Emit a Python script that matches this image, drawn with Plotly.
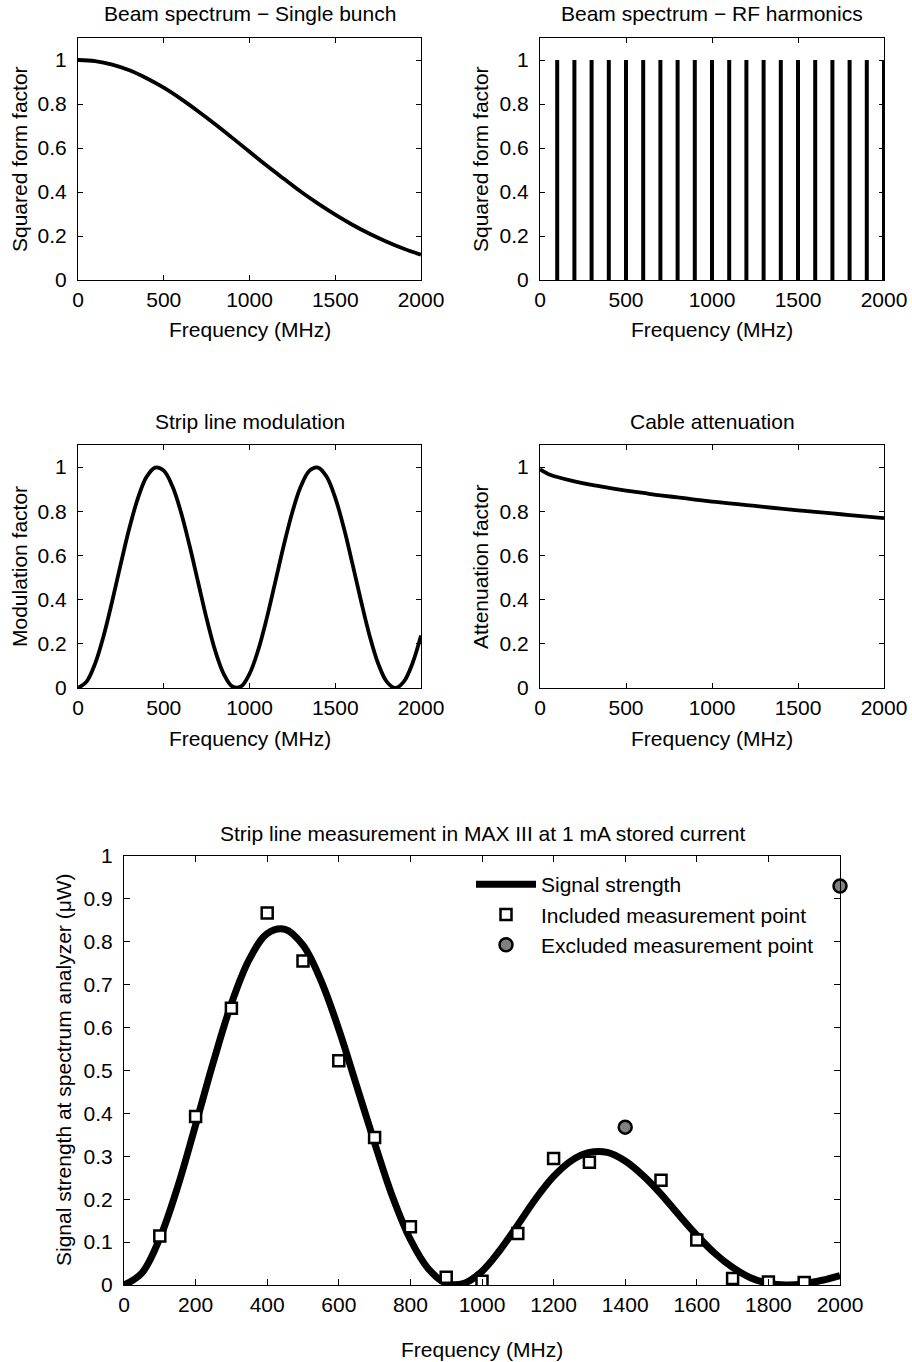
import plotly.graph_objects as go

W, H = 912, 1362

# ---------------- data ----------------
# Beam spectrum, single bunch (squared form factor), every 100 MHz
bunch_freq = list(range(0, 2001, 100))
bunch_ff = [1.000, 0.995, 0.979, 0.953, 0.917, 0.874, 0.823, 0.767, 0.708, 0.646,
            0.583, 0.520, 0.460, 0.401, 0.347, 0.297, 0.251, 0.210, 0.174, 0.142, 0.115]

# RF harmonics (every 100 MHz, unit height)
harm_freq = list(range(100, 2001, 100))
harm_amp = [1.0] * len(harm_freq)

# Strip line modulation factor, every 50 MHz
mod_freq = list(range(0, 2001, 50))
mod_fac = [0.000, 0.029, 0.111, 0.238, 0.395, 0.564, 0.725, 0.861, 0.956, 0.998,
           0.984, 0.914, 0.797, 0.646, 0.480, 0.314, 0.169, 0.063, 0.007, 0.007,
           0.064, 0.170, 0.314, 0.479, 0.646, 0.797, 0.914, 0.984, 0.998, 0.956,
           0.861, 0.725, 0.563, 0.395, 0.238, 0.111, 0.029, 0.000, 0.029, 0.111, 0.238]

# Cable attenuation factor
att_freq = [0, 25, 50, 100, 200, 300, 400, 500, 600, 700, 800, 900, 1000,
            1100, 1200, 1300, 1400, 1500, 1600, 1700, 1800, 1900, 2000]
att_fac = [0.990, 0.978, 0.968, 0.955, 0.935, 0.919, 0.906, 0.894, 0.883, 0.872,
           0.863, 0.853, 0.844, 0.836, 0.828, 0.820, 0.812, 0.804, 0.797, 0.790,
           0.783, 0.776, 0.769]

# Expected signal strength (uW), every 50 MHz
sig_freq = list(range(0, 2001, 50))
sig_uw = [0.000, 0.028, 0.109, 0.229, 0.373, 0.521, 0.656, 0.759, 0.819, 0.829,
          0.792, 0.710, 0.596, 0.464, 0.331, 0.206, 0.106, 0.038, 0.004, 0.004,
          0.032, 0.081, 0.140, 0.201, 0.253, 0.290, 0.309, 0.309, 0.289, 0.255,
          0.212, 0.163, 0.116, 0.074, 0.041, 0.017, 0.004, 0.000, 0.003, 0.011, 0.022]

# Measurements
incl_freq = [100, 200, 300, 400, 500, 600, 700, 800, 900, 1000,
             1100, 1200, 1300, 1500, 1600, 1700, 1800, 1900]
incl_uw = [0.114, 0.393, 0.645, 0.867, 0.755, 0.523, 0.344, 0.136, 0.018, 0.009,
           0.120, 0.295, 0.286, 0.244, 0.105, 0.015, 0.007, 0.006]
excl_freq = [1400, 2000]
excl_uw = [0.368, 0.930]

FONT = "Liberation Sans, Arial, Helvetica, sans-serif"
FS = 21


def px(x):
    return x / W


def py(y):
    return 1 - y / H


fig = go.Figure()

# stems for the RF harmonics
hx, hy = [], []
for f, a in zip(harm_freq, harm_amp):
    hx += [f, f, None]
    hy += [0, a, None]

fig.add_trace(go.Scatter(x=bunch_freq, y=bunch_ff, mode="lines", line=dict(color="black", width=3.8, shape="spline"),
                         xaxis="x", yaxis="y", showlegend=False))
fig.add_trace(go.Scatter(x=hx, y=hy, mode="lines", line=dict(color="black", width=4),
                         xaxis="x2", yaxis="y2", showlegend=False))
fig.add_trace(go.Scatter(x=mod_freq, y=mod_fac, mode="lines", line=dict(color="black", width=3.8, shape="spline"),
                         xaxis="x3", yaxis="y3", showlegend=False))
fig.add_trace(go.Scatter(x=att_freq, y=att_fac, mode="lines", line=dict(color="black", width=3.8, shape="spline"),
                         xaxis="x4", yaxis="y4", showlegend=False))

# bottom panel
fig.add_trace(go.Scatter(x=sig_freq, y=sig_uw, mode="lines", name="Signal strength",
                         line=dict(color="black", width=7, shape="spline"), xaxis="x5", yaxis="y5"))
fig.add_trace(go.Scatter(x=incl_freq, y=incl_uw, mode="markers", name="Included measurement point",
                         marker=dict(symbol="square", size=11, color="white", line=dict(color="black", width=2.5)),
                         xaxis="x5", yaxis="y5"))
fig.add_trace(go.Scatter(x=excl_freq, y=excl_uw, mode="markers", name="Excluded measurement point",
                         marker=dict(symbol="circle", size=13, color="#808080", line=dict(color="black", width=2.5)),
                         xaxis="x5", yaxis="y5", cliponaxis=False))


def ax(domain, rng, dtick, anchor, ticklen=5, standoff=1):
    return dict(domain=domain, range=rng, dtick=dtick, tick0=0, anchor=anchor,
                showline=True, linecolor="black", linewidth=1.2, mirror="ticks",
                ticks="inside", ticklen=ticklen, tickwidth=1, tickcolor="black",
                showgrid=False, zeroline=False, fixedrange=True, automargin=False,
                ticklabelstandoff=standoff,
                tickfont=dict(family=FONT, size=FS, color="black"))


xl = [px(78), px(421)]
xr = [px(540), px(884)]
yt = [py(280), py(38)]
ym = [py(688), py(445)]

layout_axes = dict(
    xaxis=ax(xl, [0, 2000], 500, "y"), yaxis=ax(yt, [0, 1.1], 0.2, "x", standoff=6),
    xaxis2=ax(xr, [0, 2000], 500, "y2"), yaxis2=ax(yt, [0, 1.1], 0.2, "x2", standoff=6),
    xaxis3=ax(xl, [0, 2000], 500, "y3"), yaxis3=ax(ym, [0, 1.1], 0.2, "x3", standoff=6),
    xaxis4=ax(xr, [0, 2000], 500, "y4"), yaxis4=ax(ym, [0, 1.1], 0.2, "x4", standoff=6),
    xaxis5=ax([px(124), px(840)], [0, 2000], 200, "y5", 6),
    yaxis5=ax([py(1285), py(856)], [0, 1], 0.1, "x5", 6, standoff=6),
)

ann = []


def text(x, y, s, angle=0):
    ann.append(dict(x=px(x), y=py(y), xref="paper", yref="paper", text=s, showarrow=False,
                    textangle=angle, xanchor="center", yanchor="middle",
                    font=dict(family=FONT, size=FS, color="black")))


# panel titles
text(250, 14, "Beam spectrum \u2212 Single bunch")
text(712, 14, "Beam spectrum \u2212 RF harmonics")
text(250, 422, "Strip line modulation")
text(712, 422, "Cable attenuation")
text(482, 833, "Strip line measurement in MAX III at 1 mA stored current")

# x axis titles
for cx in (250, 712):
    text(cx, 329, "Frequency (MHz)")
    text(cx, 738, "Frequency (MHz)")
text(482, 1349, "Frequency (MHz)")

# y axis titles
text(19, 159, "Squared form factor", -90)
text(480, 159, "Squared form factor", -90)
text(19, 567, "Modulation factor", -90)
text(480, 567, "Attenuation factor", -90)
text(63, 1070, "Signal strength at spectrum analyzer (\u03bcW)", -90)

fig.update_layout(
    width=W, height=H, margin=dict(l=0, r=0, t=0, b=0),
    paper_bgcolor="white", plot_bgcolor="white",
    font=dict(family=FONT, size=FS, color="black"),
    annotations=ann,
    legend=dict(x=px(471), y=py(864), xanchor="left", yanchor="top",
                bgcolor="rgba(0,0,0,0)", font=dict(family=FONT, size=FS, color="black"),
                tracegroupgap=0, itemwidth=60),
    **layout_axes,
)

# drop the default page margin so the figure fills the window exactly
fig.write_html("out.html", config={"displayModeBar": False},
               post_script="document.body.style.margin='0';")
